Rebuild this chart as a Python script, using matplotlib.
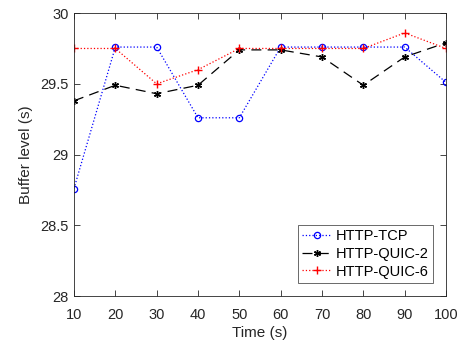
import matplotlib
matplotlib.use("Agg")
from matplotlib import pyplot as plt

time_s = [10, 20, 30, 40, 50, 60, 70, 80, 90, 100]
http_tcp = [28.76, 29.76, 29.76, 29.26, 29.26, 29.76, 29.76, 29.76, 29.76, 29.51]
http_quic2 = [29.38, 29.49, 29.43, 29.49, 29.74, 29.74, 29.69, 29.49, 29.69, 29.79]
http_quic6 = [29.75, 29.75, 29.50, 29.60, 29.75, 29.75, 29.75, 29.75, 29.86, 29.75]

plt.rcParams["font.family"] = ["Liberation Sans", "DejaVu Sans"]

fig = plt.figure(figsize=(4.61, 3.45), dpi=100)
ax = fig.add_axes([0.1605, 0.142, 0.807, 0.82])

ax.plot(time_s, http_tcp, color="blue", linestyle=":", linewidth=0.9,
        marker="o", markersize=4.5, markerfacecolor="none", markeredgewidth=0.9,
        label="HTTP-TCP")
ax.plot(time_s, http_quic2, color="black", linestyle=(0, (8, 5)), linewidth=0.9,
        marker=(6, 2, 0), markersize=5, markeredgewidth=1.0,
        label="HTTP-QUIC-2")
ax.plot(time_s, http_quic6, color="red", linestyle=":", linewidth=0.9,
        marker="+", markersize=6, markeredgewidth=1.0,
        label="HTTP-QUIC-6")

ax.set_xlim(10, 100)
ax.set_ylim(28, 30)
ax.set_xticks(range(10, 101, 10))
ax.set_yticks([28, 28.5, 29, 29.5, 30])
ax.set_yticklabels(["28", "28.5", "29", "29.5", "30"])
ax.tick_params(direction="in", top=True, right=True, labelsize=10.5,
               colors="#262626", length=4, width=0.6)
ax.tick_params(axis="x", pad=8.5)
ax.tick_params(axis="y", pad=4)
for s in ax.spines.values():
    s.set_linewidth(0.6)
    s.set_color("#262626")
ax.set_xlabel("Time (s)", fontsize=11, color="#262626", labelpad=3)
ax.set_ylabel("Buffer level (s)", fontsize=11, color="#262626", labelpad=5)

leg = ax.legend(loc="lower right", fontsize=10.5, frameon=True, fancybox=False,
                edgecolor="#262626", handlelength=2.0, handletextpad=0.3,
                borderpad=0.3, labelspacing=0.25, borderaxespad=0.9)
leg.get_frame().set_linewidth(0.6)

fig.savefig("out.png", dpi=100)
